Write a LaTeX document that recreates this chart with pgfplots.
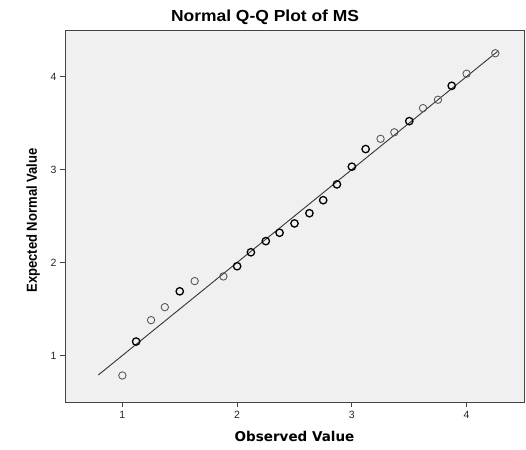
\documentclass[border=0pt]{standalone}
\usepackage{pgfplots}
\pgfplotsset{compat=1.18}
\usepackage{fontspec}
\setmainfont{Liberation Sans}
\newfontfamily\verdanalike{DejaVu Sans}
\usetikzlibrary{calc}
\definecolor{panel}{RGB}{240,240,240}
\definecolor{frame}{RGB}{68,68,68}

\begin{document}
\begin{tikzpicture}
\begin{axis}[
  name=ax,
  scale only axis,
  width=459bp, height=372bp,
  xmin=0.5, xmax=4.5, ymin=0.5, ymax=4.5,
  axis background/.style={fill=panel},
  axis line style={frame, line width=0.9pt},
  xtick={1,2,3,4}, ytick={1,2,3,4},
  tick align=outside, tick pos=lower,
  major tick length=5bp,
  tick style={frame, line width=0.9pt},
  tick label style={font=\fontsize{10.5bp}{12bp}\selectfont, text=black!85},
  xticklabel style={yshift=-1bp},
  /pgf/number format/assume math mode=true,
  title={Normal Q-Q Plot of MS},
  title style={font=\fontsize{16bp}{18bp}\selectfont\bfseries, xscale=1.09, xshift=-27bp, yshift=-4bp},
  xlabel={Observed Value},
  ylabel={Expected Normal Value},
  xlabel style={font=\fontsize{13.5bp}{15bp}\selectfont\verdanalike\bfseries, yshift=-5bp},
  ylabel style={font=\fontsize{14.5bp}{16bp}\selectfont\bfseries, xscale=0.9, yshift=4bp, xshift=-5bp},
]
  % reference line
  \addplot[black!80, line width=0.9pt] coordinates {(0.79,0.79) (4.27,4.27)};

  % single cases (lighter circles)
  \addplot[only marks, mark=o, mark size=3.7bp, black!65, mark options={line width=0.9pt}]
    coordinates {
      (1.00,0.785) (1.25,1.38) (1.37,1.52) (1.63,1.80) (1.88,1.85)
      (3.25,3.33) (3.37,3.40) (3.62,3.66) (3.75,3.75) (4.00,4.03) (4.25,4.25)
    };

  % repeated cases (darker circles)
  \addplot[only marks, mark=o, mark size=3.7bp, black, mark options={line width=1.3pt}]
    coordinates {
      (1.12,1.15) (1.50,1.69) (2.00,1.96) (2.12,2.11) (2.25,2.23)
      (2.37,2.32) (2.50,2.42) (2.63,2.53) (2.75,2.67) (2.87,2.84)
      (3.00,3.03) (3.12,3.22) (3.50,3.52) (3.87,3.90)
    };
\end{axis}
\pgfresetboundingbox
\path ($(ax.south west)+(-65bp,-48bp)$) rectangle ($(ax.north east)+(2bp,30bp)$);
\end{tikzpicture}
\end{document}
